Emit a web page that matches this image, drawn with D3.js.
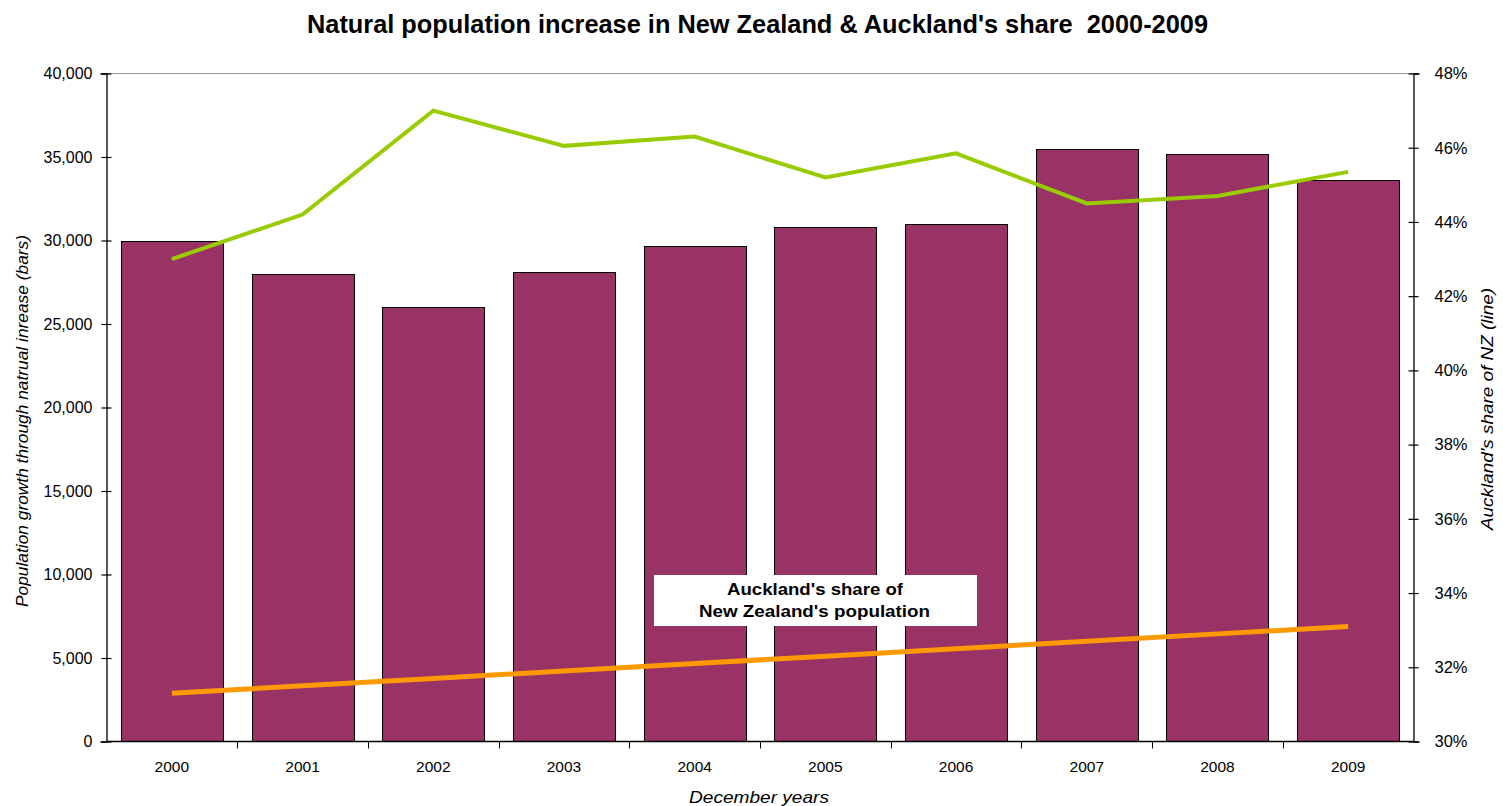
<!DOCTYPE html>
<html>
<head>
<meta charset="utf-8">
<script src="https://cdn.jsdelivr.net/npm/d3@7"></script>
<style>
  body { margin: 0; background: #fff; }
  svg { display: block; font-family: "Liberation Sans", Arial, sans-serif; }
</style>
</head>
<body>
<svg id="chart" width="1503" height="806"></svg>
<script>
// Natural increase in NZ population (bars, left axis) and Auckland's share (lines, right axis)
const years = ["2000","2001","2002","2003","2004","2005","2006","2007","2008","2009"];
const naturalIncrease = [30000, 28000, 26000, 28100, 29700, 30800, 31000, 35500, 35200, 33600];
const aklShareOfIncrease = [43.0, 44.2, 47.0, 46.05, 46.3, 45.2, 45.85, 44.5, 44.7, 45.35];
const aklShareOfPopulation = [31.3, 31.5, 31.7, 31.9, 32.1, 32.3, 32.5, 32.7, 32.9, 33.1];
const leftTicks = [0, 5000, 10000, 15000, 20000, 25000, 30000, 35000, 40000];
const rightTicks = [30, 32, 34, 36, 38, 40, 42, 44, 46, 48];

const svg = d3.select("#chart");
const m = { left: 106.5, right: 1413.5, top: 73.5, bottom: 741.5 };

const x = d3.scaleBand().domain(years).range([m.left, m.right]).paddingInner(0.22).paddingOuter(0.11);
const xb = d3.scaleBand().domain(years).range([m.left, m.right]);
const yL = d3.scaleLinear().domain([0, 40000]).range([m.bottom, m.top]);
const yR = d3.scaleLinear().domain([30, 48]).range([m.bottom, m.top]);

// top border of plot area
svg.append("line").attr("x1", m.left).attr("x2", m.right).attr("y1", m.top).attr("y2", m.top)
  .attr("stroke", "#999").attr("stroke-width", 1);

// bars
svg.append("g").selectAll("rect").data(years).join("rect")
  .attr("x", d => Math.round(x(d)) + 0.5)
  .attr("y", (d, i) => Math.round(yL(naturalIncrease[i])) + 0.5)
  .attr("width", Math.round(x.bandwidth()))
  .attr("height", (d, i) => m.bottom - Math.round(yL(naturalIncrease[i])) - 0.5)
  .attr("fill", "#993366").attr("stroke", "#000").attr("stroke-width", 1);

// lines
const cx = d => xb(d) + xb.bandwidth() / 2;
const lineShare = d3.line().x((d, i) => cx(years[i])).y(d => yR(d));
svg.append("path").datum(aklShareOfPopulation).attr("d", lineShare)
  .attr("fill", "none").attr("stroke", "#FF9900").attr("stroke-width", 5);
svg.append("path").datum(aklShareOfIncrease).attr("d", lineShare)
  .attr("fill", "none").attr("stroke", "#99CC00").attr("stroke-width", 4);

// annotation box
const note = svg.append("g");
note.append("rect").attr("x", 654).attr("y", 575).attr("width", 323).attr("height", 51).attr("fill", "#fff");
note.append("text").attr("x", 815).attr("y", 595).attr("text-anchor", "middle")
  .attr("font-size", 16).attr("font-weight", "bold")
  .attr("textLength", 176).attr("lengthAdjust", "spacingAndGlyphs").text("Auckland's share of");
note.append("text").attr("x", 814.5).attr("y", 617).attr("text-anchor", "middle")
  .attr("font-size", 16).attr("font-weight", "bold")
  .attr("textLength", 231).attr("lengthAdjust", "spacingAndGlyphs").text("New Zealand's population");

// left axis
const leftAxis = svg.append("g").attr("transform", `translate(${m.left},0)`)
  .call(d3.axisLeft(yL).tickValues(leftTicks).tickSize(6).tickPadding(8).tickFormat(d3.format(",")));
leftAxis.selectAll(".tick line").attr("x1", 5).attr("x2", -5);
// right axis
const rightAxis = svg.append("g").attr("transform", `translate(${m.right},0)`)
  .call(d3.axisRight(yR).tickValues(rightTicks).tickSize(6).tickPadding(15).tickFormat(d => d + "%"));
rightAxis.selectAll(".tick line").attr("x1", -5).attr("x2", 5);
// bottom axis
const bottomAxis = svg.append("g").attr("transform", `translate(0,${m.bottom})`)
  .call(d3.axisBottom(x).tickSize(0).tickPadding(19));
svg.append("g").selectAll("line").data(years.slice(1)).join("line")
  .attr("x1", d => Math.round(xb(d)) + 0.5).attr("x2", d => Math.round(xb(d)) + 0.5)
  .attr("y1", m.bottom).attr("y2", m.bottom + 7).attr("stroke", "#000");

[leftAxis, rightAxis, bottomAxis].forEach(g => {
  g.select(".domain").attr("stroke", "#000").attr("stroke-width", 1.3);
  g.selectAll(".tick line").attr("stroke", "#000").attr("stroke-width", 1.2);
  g.selectAll("text").attr("fill", "#000").attr("font-family", "'Liberation Sans', Arial, sans-serif");
});
leftAxis.selectAll("text").attr("font-size", 16);
rightAxis.selectAll("text").attr("font-size", 16.5);
bottomAxis.selectAll("text").attr("font-size", 15.5);
bottomAxis.select(".domain").attr("d", `M${m.left},0H${m.right}`);

// titles
svg.append("text").attr("x", 757.5).attr("y", 33).attr("text-anchor", "middle")
  .attr("font-size", 25).attr("font-weight", "bold")
  .attr("textLength", 901).attr("lengthAdjust", "spacingAndGlyphs")
  .style("white-space", "pre")
  .text("Natural population increase in New Zealand & Auckland's share  2000-2009");
svg.append("text").attr("x", 759).attr("y", 803).attr("text-anchor", "middle")
  .attr("font-size", 17).attr("font-style", "italic")
  .attr("textLength", 140).attr("lengthAdjust", "spacingAndGlyphs").text("December years");
svg.append("text").attr("transform", "translate(28,421) rotate(-90)").attr("text-anchor", "middle")
  .attr("font-size", 17).attr("font-style", "italic")
  .attr("textLength", 372).attr("lengthAdjust", "spacingAndGlyphs")
  .text("Population growth through natrual inrease (bars)");
svg.append("text").attr("transform", "translate(1493,409) rotate(-90)").attr("text-anchor", "middle")
  .attr("font-size", 17).attr("font-style", "italic")
  .attr("textLength", 242).attr("lengthAdjust", "spacingAndGlyphs")
  .text("Auckland's share of NZ (line)");
</script>
</body>
</html>
